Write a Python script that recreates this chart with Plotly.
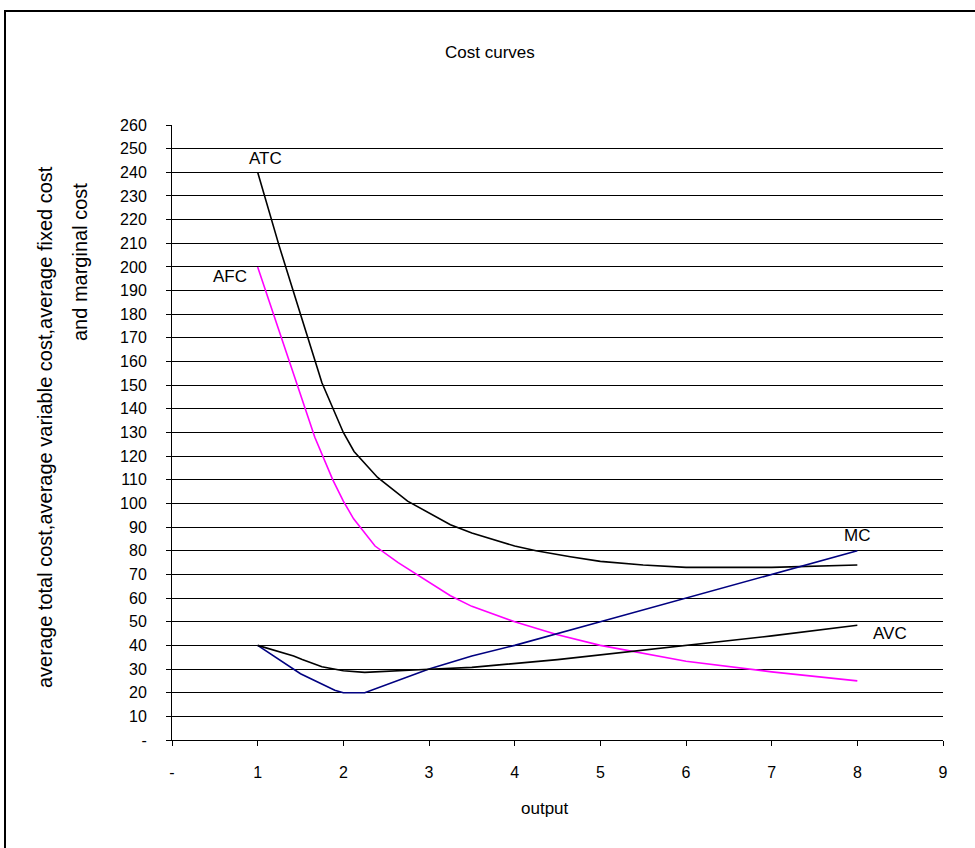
import plotly.graph_objects as go

# ---- data ----
atc_q = [1, 1.25, 1.5, 1.75, 2, 2.125, 2.4, 2.75, 3.25, 3.5, 4, 4.25, 4.65, 5, 5.5, 6, 7, 8]
atc = [240, 209, 180, 151, 130, 122, 111, 101, 91, 87.5, 82, 80, 77.5, 75.5, 74, 73, 73, 74]

afc_q = [1, 1.667, 1.877, 2, 2.12, 2.37, 2.64, 3.25, 3.5, 4, 4.5, 5, 6, 7, 8]
afc = [200, 128, 110, 101, 93.5, 82, 75, 61, 56.5, 50, 44.5, 40, 33.3, 28.8, 25]

avc_q = [1, 1.42, 1.52, 1.75, 2, 2.25, 3, 3.5, 4.5, 5, 6, 7, 8]
avc = [40, 35.5, 34, 31, 29.3, 28.6, 29.9, 30.7, 34, 36, 40, 44, 48.5]

mc_q = [1, 1.5, 1.9, 2, 2.25, 3, 3.5, 4, 5, 6, 7, 8]
mc = [40, 28, 21, 20, 20, 30, 35.5, 40, 50, 60, 70, 80]

y_ticks = list(range(0, 261, 10))
y_ticktext = ["-"] + [str(v) for v in y_ticks[1:]]
x_ticks = list(range(0, 10))
x_ticktext = ["-"] + [str(v) for v in x_ticks[1:]]

FONT = "Liberation Sans, Arial, sans-serif"

fig = go.Figure()
fig.add_trace(go.Scatter(x=atc_q, y=atc, mode="lines", line=dict(color="#000000", width=1.6), name="ATC"))
fig.add_trace(go.Scatter(x=afc_q, y=afc, mode="lines", line=dict(color="#FF00FF", width=1.6), name="AFC"))
fig.add_trace(go.Scatter(x=avc_q, y=avc, mode="lines", line=dict(color="#000000", width=1.6), name="AVC",
                         yaxis="y2"))
fig.add_trace(go.Scatter(x=mc_q, y=mc, mode="lines", line=dict(color="#000080", width=1.6), name="MC"))

W, H = 975, 848
L, R, T, B = 172, 32, 125, 108
pw = W - L - R
ph = H - T - B

def px_x(p):
    return (p - L) / pw

def px_y(p):
    return (H - B - p) / ph

def paper_text(text, x, y, size, angle=0):
    return dict(text=text, x=px_x(x), y=px_y(y), xref="paper", yref="paper",
                xanchor="center", yanchor="middle", showarrow=False, textangle=angle,
                font=dict(size=size, family=FONT, color="#000"))

annotations = [
    paper_text("Cost curves", 490, 52, 17),
    paper_text("average total cost,average variable cost,average fixed cost", 45, 427, 20, -90),
    paper_text("and marginal cost", 80, 262, 20, -90),
    paper_text("output", 545, 808, 17),
    # series labels anchored to series end points
    dict(text="ATC", x=atc_q[0], y=atc[0], xshift=8, yshift=14, showarrow=False,
         font=dict(size=17, family=FONT, color="#000")),
    dict(text="AFC", x=afc_q[0], y=afc[0], xshift=-28, yshift=-10, showarrow=False,
         font=dict(size=17, family=FONT, color="#000")),
    dict(text="MC", x=mc_q[-1], y=mc[-1], xshift=0, yshift=15, showarrow=False,
         font=dict(size=17, family=FONT, color="#000")),
    dict(text="AVC", x=avc_q[-1], y=avc[-1], xshift=33, yshift=-8, showarrow=False,
         font=dict(size=17, family=FONT, color="#000")),
]

shapes = [
    dict(type="rect", xref="paper", yref="paper", x0=px_x(5), y0=px_y(900), x1=px_x(1040), y1=px_y(11),
         line=dict(color="#000", width=2), fillcolor="rgba(0,0,0,0)", layer="above"),
]

fig.update_layout(
    width=W, height=H,
    margin=dict(l=L, r=R, t=T, b=B, pad=0),
    paper_bgcolor="white", plot_bgcolor="white",
    showlegend=False,
    annotations=annotations,
    shapes=shapes,
    font=dict(family=FONT, size=16, color="#000"),
    xaxis=dict(range=[0, 9], tickvals=x_ticks, ticktext=x_ticktext, showgrid=False,
               showline=True, linecolor="#000", linewidth=1, ticks="outside", ticklen=5,
               tickcolor="#000", zeroline=False, ticklabelstandoff=13,
               tickfont=dict(size=16, family=FONT, color="#000")),
    yaxis=dict(range=[0, 260], tickvals=y_ticks, ticktext=y_ticktext, showgrid=True,
               gridcolor="#000", gridwidth=1,
               showline=True, linecolor="#000", linewidth=1, ticks="outside", ticklen=5,
               tickcolor="#000", zeroline=False, ticklabelstandoff=16,
               tickfont=dict(size=16, family=FONT, color="#000")),
    yaxis2=dict(range=[0, 260], tickvals=y_ticks, overlaying="y", side="left",
                showgrid=False, showline=False, ticks="inside", ticklen=5, tickcolor="#000",
                showticklabels=False, zeroline=False),
)

fig.write_html("out.html")
